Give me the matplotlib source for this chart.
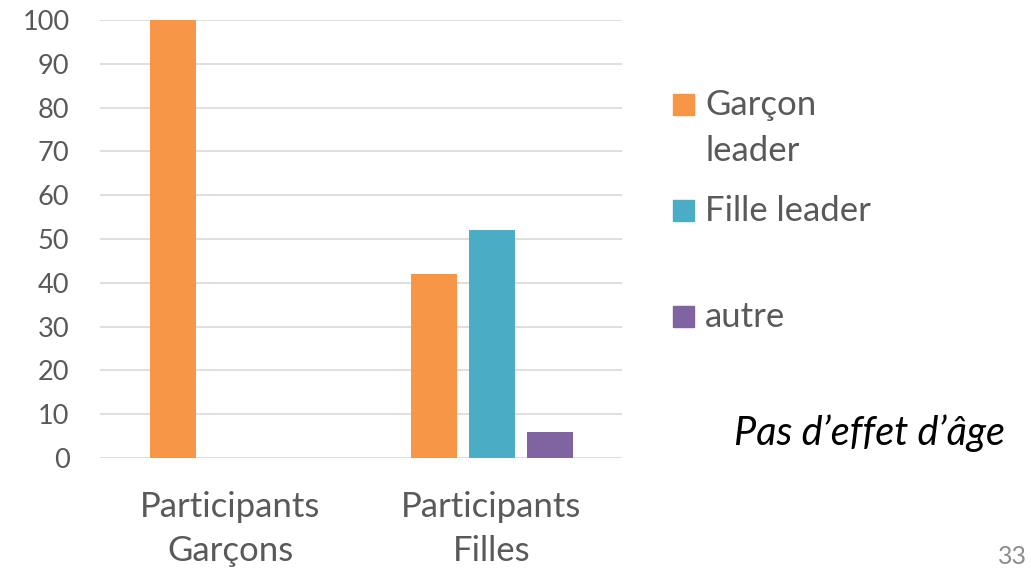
import matplotlib
matplotlib.use("Agg")
import matplotlib.pyplot as plt
from matplotlib.patches import Rectangle
import numpy as np

# Data
categories = ["Participants\nGarçons", "Participants\nFilles"]
series_names = ["Garçon\nleader", "Fille leader", "autre"]
garcon_leader = [100, 42]
fille_leader = [0, 52]
autre = [0, 6]
y_ticks = list(range(0, 101, 10))

colors = ["#F79646", "#4BACC6", "#8064A2"]
text_color = "#595959"
grid_color = "#D9D9D9"
font = "Lato"

fig = plt.figure(figsize=(10.31, 5.69), dpi=100)
ax = fig.add_axes([100 / 1031, 1 - 458 / 569, 522 / 1031, 438 / 569])

x = np.arange(len(categories))
width = 46 / 261
step = 58 / 261
for i, (vals, col) in enumerate(zip([garcon_leader, fille_leader, autre], colors)):
    ax.bar(x + (i - 1) * step, vals, width=width, color=col, zorder=3)

ax.set_xlim(-0.5, 1.5)
ax.set_ylim(0, 100)
ax.set_yticks(y_ticks)
ax.set_yticklabels([str(v) for v in y_ticks], fontsize=19.5, color=text_color, family=font)
ax.set_xticks(x)
ax.set_xticklabels(categories, fontsize=25, color=text_color, family=font, linespacing=1.45)
ax.tick_params(axis="y", length=0, pad=22)
ax.tick_params(axis="x", length=0, pad=24)
ax.yaxis.grid(True, color=grid_color, linewidth=1.2, zorder=0)
for s in ax.spines.values():
    s.set_visible(False)

# Legend: square swatch per entry, label lines set on their own baselines
legend_bottoms = [115, 221, 327]
line_gap = 46
for name, col, yb in zip(series_names, colors, legend_bottoms):
    fig.patches.append(Rectangle((673 / 1031, 1 - yb / 569), 21 / 1031, 21 / 569,
                                 transform=fig.transFigure, color=col))
    for k, line in enumerate(name.split("\n")):
        fig.text(705 / 1031, 1 - (yb + k * line_gap) / 569, line, fontsize=25,
                 color=text_color, family=font, va="baseline", ha="left")

fig.text(1005 / 1031, 1 - 445 / 569, "Pas d’effet d’âge", fontsize=28.5, style="italic",
         color="black", family=font, ha="right", va="baseline")
fig.text(1027 / 1031, 1 - 564 / 569, "33", fontsize=18, color="#8C8C8C", family=font,
         ha="right", va="baseline")

fig.savefig("out.png", dpi=100)
